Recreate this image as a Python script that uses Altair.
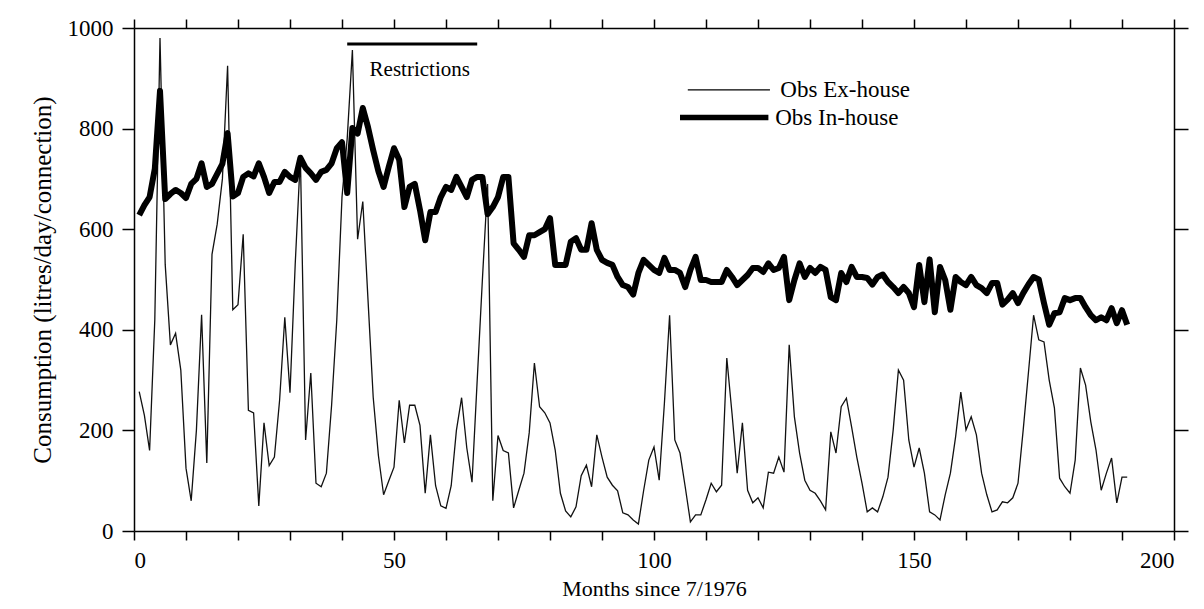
import altair as alt
import pandas as pd

months = list(range(1, 192))

ex_house = [
    277, 230, 160, 420, 980, 530, 370, 393, 320, 125,
    60, 200, 430, 135, 550, 610, 700, 925, 440, 450,
    590, 240, 235, 50, 215, 130, 147, 260, 425, 275,
    530, 744, 181, 314, 95, 88, 115, 250, 420, 664,
    780, 956, 580, 655, 460, 266, 150, 72, 100, 127,
    260, 175, 250, 250, 210, 75, 191, 90, 50, 45,
    90, 200, 265, 165, 97, 300, 500, 690, 60, 190,
    160, 155, 46, 81, 115, 195, 334, 247, 235, 215,
    161, 75, 40, 28, 48, 110, 131, 88, 191, 147,
    107, 91, 80, 36, 32, 22, 14, 80, 141, 167,
    101, 254, 429, 181, 155, 88, 18, 32, 32, 62,
    95, 78, 91, 344, 234, 115, 215, 81, 56, 66,
    46, 117, 115, 147, 117, 370, 227, 155, 101, 81,
    75, 60, 42, 197, 155, 247, 264, 207, 147, 95,
    38, 46, 38, 68, 107, 201, 320, 300, 181, 127,
    165, 115, 38, 32, 22, 72, 115, 187, 276, 201,
    227, 191, 115, 72, 38, 42, 58, 56, 66, 95,
    201, 314, 429, 380, 376, 300, 245, 105, 88, 75,
    141, 324, 290, 217, 161, 81, 115, 145, 56, 107, 107,
]

in_house = [
    628, 648, 664, 720, 875, 660, 670, 678, 672, 662,
    690, 700, 731, 684, 690, 710, 730, 791, 665, 672,
    704, 711, 705, 731, 704, 672, 694, 694, 714, 704,
    698, 742, 722, 711, 698, 714, 718, 731, 761, 773,
    672, 801, 790, 841, 803, 757, 715, 684, 724, 761,
    738, 644, 684, 690, 638, 578, 634, 634, 664, 684,
    678, 704, 684, 664, 698, 704, 704, 630, 644, 664,
    704, 704, 572, 559, 545, 588, 588, 594, 600, 622,
    529, 529, 529, 575, 582, 559, 559, 612, 559, 539,
    533, 529, 505, 489, 485, 470, 513, 539, 529, 519,
    513, 543, 519, 519, 513, 485, 519, 545, 499, 499,
    495, 495, 495, 519, 505, 489, 499, 509, 523, 523,
    515, 532, 519, 523, 545, 459, 499, 532, 505, 523,
    513, 525, 519, 465, 459, 513, 495, 525, 505, 505,
    503, 490, 505, 510, 495, 485, 473, 485, 473, 445,
    529, 455, 540, 435, 525, 499, 440, 505, 495, 489,
    505, 489, 483, 473, 493, 493, 450, 460, 473, 453,
    473, 490, 505, 500, 453, 410, 433, 435, 463, 459,
    463, 463, 445, 429, 419, 425, 419, 443, 413, 439, 410,
]

x_ticks = list(range(0, 201, 10))
y_ticks = [0, 200, 400, 600, 800, 1000]

# annotation: restrictions bar (months) and level
restrict_months = [41, 66]
restrict_level = 968
restrict_label = "Restrictions"
restrict_label_pos = [45.3, 916]

# manual legend (data coordinates)
legend_labels = ["Obs Ex-house", "Obs In-house"]
legend_line_start = [106.5, 105.0]
legend_line_end = [122.3, 122.0]
legend_levels = [877, 822]
legend_text_x = [124.3, 123.3]
legend_widths = [1.3, 5.5]

FONT = "Liberation Serif"

df_ex = pd.DataFrame({"month": months, "value": ex_house})
df_in = pd.DataFrame({"month": months, "value": in_house})

xs = alt.Scale(domain=[0, 200], nice=False)
ys = alt.Scale(domain=[0, 1000], nice=False)

ex_line = alt.Chart(df_ex).mark_line(color="#111111", strokeWidth=1.3).encode(
    x=alt.X("month:Q", scale=xs, axis=alt.Axis(
        orient="bottom", values=x_ticks, title="Months since 7/1976",
        labelExpr="datum.value % 50 == 0 ? datum.label : ''",
        format="d", tickSize=9, grid=False, labelPadding=9)),
    y=alt.Y("value:Q", scale=ys, axis=alt.Axis(
        orient="left", values=y_ticks, format="d",
        title="Consumption (litres/day/connection)", tickSize=12, grid=False,
        labelPadding=9)),
)

in_line = alt.Chart(df_in).mark_line(color="#000000", strokeWidth=6,
                                     strokeJoin="round").encode(
    x=alt.X("month:Q", scale=xs, axis=alt.Axis(
        orient="top", values=x_ticks, labels=False, title=None,
        tickSize=9, grid=False)),
    y=alt.Y("value:Q", scale=ys, axis=alt.Axis(
        orient="right", values=y_ticks, labels=False, title=None,
        tickSize=14, grid=False)),
)

df_r = pd.DataFrame({"x": [restrict_months[0]], "x2": [restrict_months[1]],
                     "y": [restrict_level]})
restrict_bar = alt.Chart(df_r).mark_rule(color="#000000", strokeWidth=3).encode(
    x=alt.X("x:Q", scale=xs, axis=None), x2="x2:Q",
    y=alt.Y("y:Q", scale=ys, axis=None))

df_rt = pd.DataFrame({"x": [restrict_label_pos[0]], "y": [restrict_label_pos[1]],
                      "t": [restrict_label]})
restrict_text = alt.Chart(df_rt).mark_text(
    font=FONT, fontSize=21, align="left", baseline="middle", color="#000"
).encode(x=alt.X("x:Q", scale=xs, axis=None),
         y=alt.Y("y:Q", scale=ys, axis=None), text="t:N")

df_leg = pd.DataFrame({"x": legend_line_start, "x2": legend_line_end,
                       "y": legend_levels, "tx": legend_text_x,
                       "t": legend_labels, "w": legend_widths})
leg_lines = alt.Chart(df_leg).mark_rule(color="#000000").encode(
    x=alt.X("x:Q", scale=xs, axis=None), x2="x2:Q",
    y=alt.Y("y:Q", scale=ys, axis=None),
    strokeWidth=alt.StrokeWidth("w:Q", scale=None, legend=None))
leg_text = alt.Chart(df_leg).mark_text(
    font=FONT, fontSize=23, align="left", baseline="middle", color="#000"
).encode(x=alt.X("tx:Q", scale=xs, axis=None),
         y=alt.Y("y:Q", scale=ys, axis=None), text="t:N")

chart = alt.layer(
    ex_line, in_line, restrict_bar, restrict_text, leg_lines, leg_text
).resolve_axis(x="independent", y="independent").properties(
    width=1040, height=503,
    autosize=alt.AutoSizeParams(type="none"),
    padding={"left": 134, "top": 28, "right": 30, "bottom": 78},
).configure_view(stroke=None).configure_axis(
    domainColor="#000", domainWidth=1.5, tickColor="#000", tickWidth=1.5,
    labelFont=FONT, labelFontSize=23, labelColor="#000",
    titleFont=FONT, titleFontSize=22, titleColor="#000",
    titleFontWeight="normal",
).configure_axisLeft(titlePadding=12, titleFontSize=25).configure_axisBottom(
    titlePadding=6)

chart.save("out.html", embed_options={"renderer": "svg", "actions": False})
